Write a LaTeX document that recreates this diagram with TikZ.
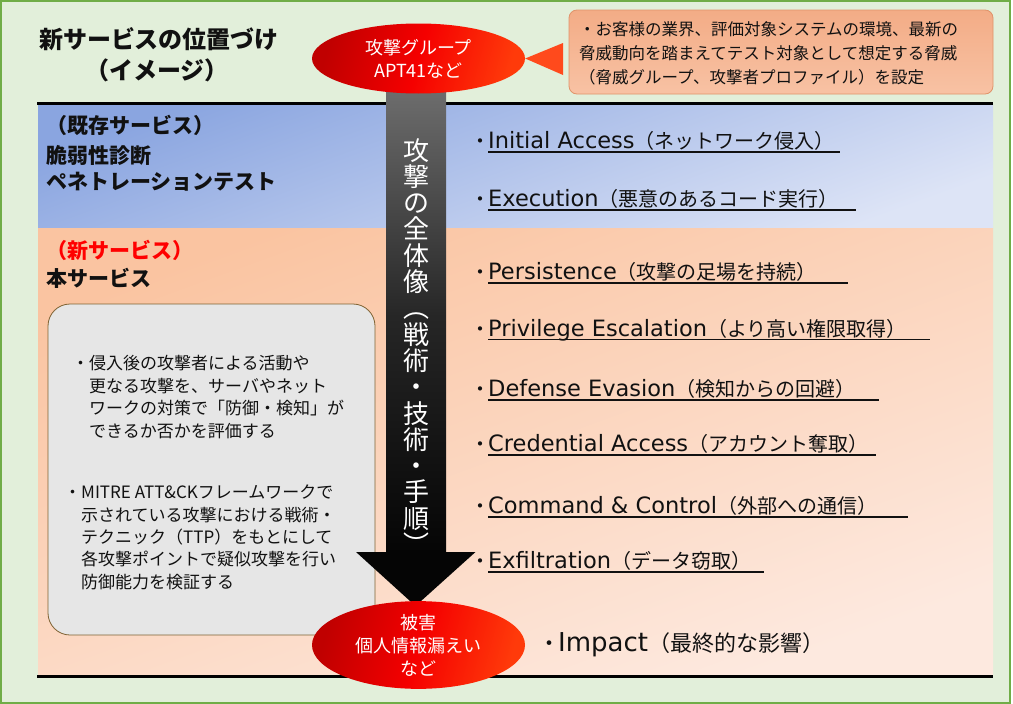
\documentclass[tikz,border=0pt]{standalone}
\usepackage{fontspec}
\setmainfont{Noto Sans CJK JP}
\newfontfamily\lat{DejaVu Sans}
\usetikzlibrary{shapes.geometric}
\definecolor{bgG}{HTML}{E2EFDA}
\definecolor{frG}{HTML}{70AD47}
\definecolor{blueA}{HTML}{8AA5E0}
\definecolor{blueB}{HTML}{DDE4F6}
\definecolor{peachA}{HTML}{FAC4A1}
\definecolor{peachB}{HTML}{FDE9DF}
\definecolor{grayBox}{HTML}{E6E6E6}
\definecolor{grayBorder}{HTML}{7F6232}
\definecolor{redA}{HTML}{C00000}
\definecolor{redB}{HTML}{F50000}
\definecolor{redC}{HTML}{FF3A0A}
\definecolor{triOr}{HTML}{FF4A1C}
\definecolor{boxA}{HTML}{F3AC86}
\definecolor{boxB}{HTML}{F8C2A4}
\definecolor{boxBorder}{HTML}{E0936A}
\definecolor{txt}{HTML}{111111}
\definecolor{stemA}{HTML}{707070}
\definecolor{stemB}{HTML}{262626}
\definecolor{stemC}{HTML}{050505}
\newcommand{\litem}[5]{%
  \node[anchor=base west, inner sep=0, text=txt] (#1) at (488,#2)
    {{\lat\fontsize{22.5}{26}\selectfont #3}{\fontsize{20}{24}\selectfont #4}};
  \node[anchor=base, inner sep=0, text=txt, font=\fontsize{20}{24}\selectfont] (#1b) at (480,#2) {・};
  \draw[ulline] (#1.base west) ++(0,3.5) -- (#5,#2+3.5);
}
\begin{document}
\begin{tikzpicture}[x=1pt,y=-1pt,
  redell/.style={ellipse, inner sep=0, left color=redA, right color=redC, middle color=redB,
    shading angle=75, text=white, align=center, font=\fontsize{18}{23}\selectfont},
  ulline/.style={line width=1.4pt, draw=txt},
  bandline/.style={line width=3pt, draw=black},
  lbl/.style={anchor=west, inner sep=0, font=\fontsize{21}{25}\selectfont\bfseries, text=txt},
  gtxt/.style={anchor=west, inner sep=0, font=\fontsize{17}{21}\selectfont, text=txt},
  btxt/.style={anchor=west, inner sep=0, font=\fontsize{16.5}{20}\selectfont, text=txt},
  stemtxt/.style={inner sep=0, text=white, font=\fontsize{26}{28}\selectfont,
    text height=20pt, text depth=0pt}
]
\useasboundingbox (0,0) rectangle (1013,704);
% background frame
\draw[fill=bgG, draw=frG, line width=2pt] (1,1) rectangle (1009.5,702.5);
% bands
\shade[top color=blueA, bottom color=blueB, shading angle=20] (38,104) rectangle (993,228);
\shade[top color=peachA, bottom color=peachB, shading angle=20] (38,228) rectangle (993,675);
\draw[bandline] (37,103.5) -- (993,103.5);
\draw[bandline] (37,676) -- (993,676);

% title
\node[inner sep=0, font=\fontsize{24}{31}\selectfont\bfseries, text=txt] (title1) at (159,39) {新サービスの位置づけ};
\node[inner sep=0, font=\fontsize{24}{31}\selectfont\bfseries, text=txt] (title2) at (157,70) {（イメージ）};

% left labels
\node[lbl] (l1) at (46,125) {（既存サービス）};
\node[lbl] (l2) at (46,155) {脆弱性診断};
\node[lbl] (l3) at (46,182) {ペネトレーションテスト};
\node[lbl, text=red] (l4) at (46,250) {（新サービス）};
\node[lbl] (l5) at (46,278) {本サービス};

% gray box
\filldraw[fill=grayBox, draw=grayBorder, line width=0.8pt, rounded corners=22pt] (48,304) rectangle (375,635);
\node[gtxt] (g1a) at (72,363) {・侵入後の攻撃者による活動や};
\node[gtxt] (g1b) at (89,386) {更なる攻撃を、サーバやネット};
\node[gtxt] (g1c) at (89,408) {ワークの対策で「防御・検知」が};
\node[gtxt] (g1d) at (89,431) {できるか否かを評価する};
\node[gtxt] (g2a) at (64,492) {・MITRE ATT\&CKフレームワークで};
\node[gtxt] (g2b) at (81,515) {示されている攻撃における戦術・};
\node[gtxt] (g2c) at (81,537) {テクニック（TTP）をもとにして};
\node[gtxt] (g2d) at (81,559) {各攻撃ポイントで疑似攻撃を行い};
\node[gtxt] (g2e) at (81,582) {防御能力を検証する};

% big arrow
\shade[top color=stemA, bottom color=stemC, middle color=stemB] (386,80) rectangle (446,553);
\fill[stemC] (356,552) -- (475.5,552) -- (415.5,606) -- cycle;
\foreach \c [count=\i] in {攻,撃,の,全,体,像,︵,戦,術,・,技,術,・,手,順,︶}
  \node[stemtxt] (s\i) at (416,150+26.3*\i-26.3) {\c};

% ellipses
\node[redell, minimum width=213pt, minimum height=70pt] (topell) at (418.5,58.5)
  {攻撃グループ\\APT41など};
\node[redell, minimum width=213pt, minimum height=80pt] (botell) at (418.5,645)
  {被害\\個人情報漏えい\\など};

% top right box
\shade[top color=boxA, bottom color=boxB, rounded corners=8pt] (569,10) rectangle (993,94);
\draw[boxBorder, line width=0.8pt, rounded corners=8pt] (569,10) rectangle (993,94);
\coordinate (triB1) at (563,43);
\coordinate (triB2) at (563,75);
\fill[triOr] (topell.east) -- (triB1) -- (triB2) -- cycle;
\node[btxt] (b1) at (579,29) {・お客様の業界、評価対象システムの環境、最新の};
\node[btxt] (b2) at (579,53) {脅威動向を踏まえてテスト対象として想定する脅威};
\node[btxt] (b3) at (579,77) {（脅威グループ、攻撃者プロファイル）を設定};

% list
\litem{i1}{148.5}{Initial Access}{（ネットワーク侵入）}{840}
\litem{i2}{206.5}{Execution}{（悪意のあるコード実行）}{856}
\litem{i3}{279.5}{Persistence}{（攻撃の足場を持続）}{848}
\litem{i4}{336}{Privilege Escalation}{（より高い権限取得）}{930}
\litem{i5}{396.5}{Defense Evasion}{（検知からの回避）}{879}
\litem{i6}{451.5}{Credential Access}{（アカウント奪取）}{876}
\litem{i7}{513.5}{Command \& Control}{（外部への通信）}{908}
\litem{i8}{568.5}{Exfiltration}{（データ窃取）}{764}

% impact
\node[anchor=base, inner sep=0, text=txt, font=\fontsize{22}{26}\selectfont] (impb) at (549,651.5) {・};
\node[anchor=base west, inner sep=0, text=txt] (imp) at (558,651.5)
  {{\lat\fontsize{26}{30}\selectfont Impact}{\fontsize{22}{26}\selectfont （最終的な影響）}};
\end{tikzpicture}
\end{document}
